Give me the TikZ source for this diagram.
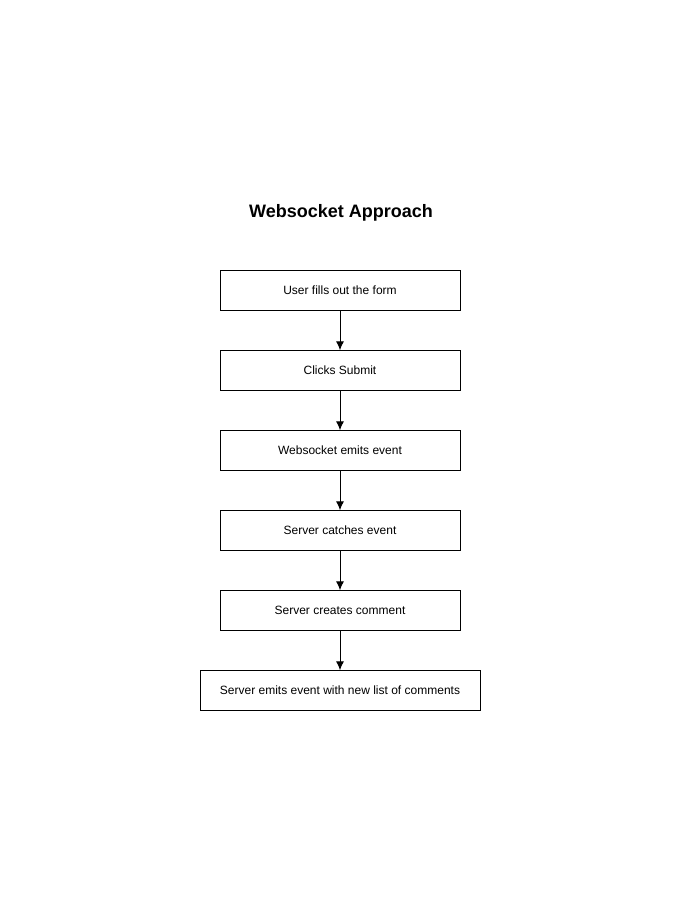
\documentclass[tikz,border=0pt]{standalone}
\usepackage{fontspec}
\setmainfont{Liberation Sans}
\usetikzlibrary{arrows.meta}

\begin{document}
\begin{tikzpicture}
      [%%%%%%%%%%%%%%%%%%%%%%%%%%%%%%
      x=1pt,y=-1pt,
      stepbox/.style={rectangle,draw=black,minimum height=40pt,minimum width=240pt,
        font=\fontsize{12}{14}\selectfont,inner sep=0pt},
      flow/.style={-{Latex[length=9pt,width=8pt]},line width=1pt},
      ]%%%%%%%%%%%%%%%%%%%%%%%%%%%%%%
      \useasboundingbox[fill=white] (0,0) rectangle (681,911);

      \node[font=\bfseries\fontsize{18}{22}\selectfont] (title) at (341,213) {Websocket Approach};

      \node[stepbox] (fill)   at (340,290.5) {User fills out the form};
      \node[stepbox] (submit) at (340,370.5) {Clicks Submit};
      \node[stepbox] (emit)   at (340,450.5) {Websocket emits event};
      \node[stepbox] (catch)  at (340,530.5) {Server catches event};
      \node[stepbox] (create) at (340,610.5) {Server creates comment};
      \node[stepbox,minimum width=280pt] (list) at (340,690.5) {Server emits event with new list of comments};

      \foreach \a/\b in {fill/submit,submit/emit,emit/catch,catch/create,create/list}
        \draw[flow] (\a) -- (\b);
    \end{tikzpicture}
\end{document}
